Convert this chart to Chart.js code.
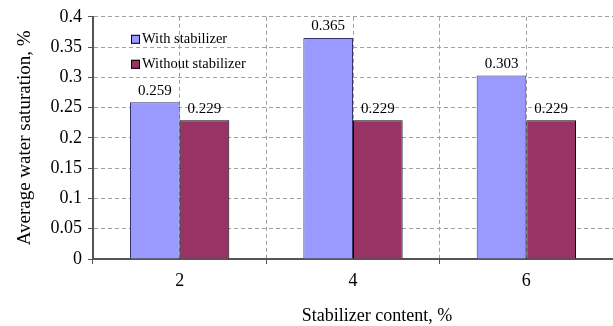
<!DOCTYPE html>
<html>
<head>
<meta charset="utf-8">
<script src="https://cdn.jsdelivr.net/npm/chart.js@4.4.0/dist/chart.umd.min.js"></script>
<style>
  html, body { margin: 0; padding: 0; background: #fff; }
  #wrap { width: 613px; height: 326px; }
</style>
</head>
<body>
<div id="wrap"><canvas id="chart" width="613" height="326"></canvas></div>
<script>
const categories = ['2', '4', '6'];
const withStabilizer = [0.259, 0.365, 0.303];
const withoutStabilizer = [0.229, 0.229, 0.229];
const seriesNames = ['With stabilizer', 'Without stabilizer'];
const yTicks = [0, 0.05, 0.1, 0.15, 0.2, 0.25, 0.3, 0.35, 0.4];
const xTitle = 'Stabilizer content, %';
const yTitle = 'Average water saturation, %';

const serif = 'Liberation Serif';

// values above the bars
const valueLabels = {
  id: 'valueLabels',
  afterDatasetsDraw(chart) {
    const ctx = chart.ctx;
    ctx.save();
    ctx.font = '15px "' + serif + '"';
    ctx.fillStyle = '#000';
    ctx.textAlign = 'center';
    ctx.textBaseline = 'bottom';
    chart.data.datasets.forEach((ds, i) => {
      chart.getDatasetMeta(i).data.forEach((bar, j) => {
        ctx.fillText(ds.data[j].toFixed(3), bar.x, bar.y - 4);
      });
    });
    ctx.restore();
  }
};

// legend inside the plot (top left) + x axis title, which sits a bit right of centre
const extras = {
  id: 'extras',
  afterDraw(chart) {
    const ctx = chart.ctx;
    const a = chart.chartArea;
    ctx.save();
    ctx.font = '14.5px "' + serif + '"';
    ctx.textBaseline = 'middle';
    chart.data.datasets.forEach((ds, i) => {
      const x = a.left + 38;
      const y = a.top + 22 + i * 25;
      ctx.fillStyle = ds.backgroundColor;
      ctx.fillRect(x, y - 4, 9, 9);
      ctx.strokeStyle = '#000';
      ctx.lineWidth = 1;
      ctx.strokeRect(x + 0.5, y - 3.5, 8, 8);
      ctx.fillStyle = '#000';
      ctx.fillText(ds.label, x + 11, y);
    });
    ctx.font = '18px "' + serif + '"';
    ctx.textAlign = 'center';
    ctx.fillText(xTitle, (a.left + a.right) / 2 + 24, 316);
    ctx.restore();
  }
};

new Chart(document.getElementById('chart'), {
  type: 'bar',
  data: {
    labels: categories,
    datasets: [
      { label: seriesNames[0], data: withStabilizer, backgroundColor: '#9999FF', borderColor: '#333366', borderWidth: 1 },
      { label: seriesNames[1], data: withoutStabilizer, backgroundColor: '#993366', borderColor: '#000', borderWidth: 1 }
    ]
  },
  options: {
    responsive: false,
    animation: false,
    layout: { padding: { top: 16, right: 0, left: 0, bottom: 0 } },
    datasets: { bar: { barPercentage: 1, categoryPercentage: 0.573 } },
    plugins: { legend: { display: false }, tooltip: { enabled: false } },
    scales: {
      x: {
        offset: true,
        grid: { offset: true, color: '#a0a0a0', tickColor: '#555', tickLength: 5 },
        border: { color: '#555', width: 2, dash: [4, 3] },
        ticks: { color: '#000', font: { family: serif, size: 18 }, padding: 6 },
        afterFit(s) { s.height = 67; }
      },
      x2: {
        type: 'category',
        position: 'bottom',
        labels: categories,
        offset: true,
        grid: { offset: false, color: '#a0a0a0', drawTicks: false },
        border: { display: false, dash: [4, 3] },
        ticks: { display: false },
        afterFit(s) { s.height = 0; }
      },
      y: {
        min: 0,
        max: 0.4,
        afterBuildTicks(s) { s.ticks = yTicks.map(v => ({ value: v })); },
        grid: { color: '#a0a0a0', tickColor: '#555', tickLength: 5 },
        border: { color: '#555', width: 2, dash: [4, 3] },
        ticks: { color: '#000', font: { family: serif, size: 18 }, padding: 6, callback: v => String(v) },
        title: { display: true, text: yTitle, color: '#000', font: { family: serif, size: 19 }, padding: { top: 14, bottom: 0 } },
        afterFit(s) { s.width = 93; }
      }
    }
  },
  plugins: [valueLabels, extras]
});
</script>
</body>
</html>
